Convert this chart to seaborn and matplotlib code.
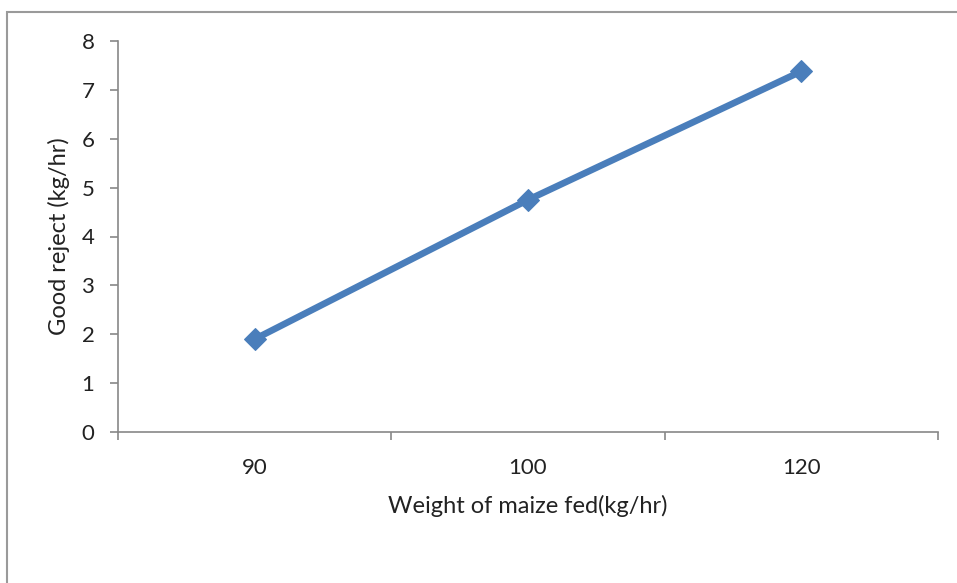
import matplotlib
matplotlib.use("Agg")
import matplotlib.pyplot as plt
from matplotlib.patches import Rectangle
import seaborn as sns
import pandas as pd

categories = ["90", "100", "120"]
good_reject = [1.9, 4.75, 7.38]
y_ticks = [0, 1, 2, 3, 4, 5, 6, 7, 8]

sns.set_theme(style="white")
plt.rcParams["font.family"] = ["Lato", "DejaVu Sans"]

df = pd.DataFrame({"weight": categories, "reject": good_reject})

fig = plt.figure(figsize=(9.57, 5.83), dpi=100)
ax = fig.add_axes([118 / 957, 1 - 432 / 583, (938 - 118) / 957, (432 - 41) / 583])

# outer chart frame
fig.patches.append(Rectangle((7 / 957, -0.1), 1.2, 1.1 - 12 / 583,
                             transform=fig.transFigure, fill=False,
                             edgecolor="#9a9a9a", linewidth=1.5, zorder=0))

color = "#4a7ebb"
sns.lineplot(data=df, x="weight", y="reject", ax=ax, color=color,
             linewidth=4.8, marker="D", markersize=11,
             markeredgecolor=color, markerfacecolor=color, sort=False)

ax.set_xlim(-0.5, 2.5)
ax.set_ylim(0, 8)
ax.set_yticks(y_ticks)
ax.set_xticks(range(len(categories)))
ax.set_xticklabels(categories)
ax.set_xticks([-0.5, 0.5, 1.5, 2.5], minor=True)
ax.tick_params(axis="x", which="major", length=0, labelsize=16, pad=19,
               labelcolor="#222222")
ax.tick_params(axis="x", which="minor", length=6, width=1.2, color="#888888",
               direction="out", bottom=True)
ax.tick_params(axis="y", length=6, width=1.2, color="#888888",
               direction="out", left=True, labelsize=16, pad=11,
               labelcolor="#222222")

for side in ["top", "right"]:
    ax.spines[side].set_visible(False)
for side in ["left", "bottom"]:
    ax.spines[side].set_color("#888888")
    ax.spines[side].set_linewidth(1.2)

ax.set_xlabel("Weight of maize fed(kg/hr)", fontsize=17, color="#222222",
              labelpad=12)
ax.set_ylabel("Good reject (kg/hr)", fontsize=17, color="#222222",
              labelpad=8)
ax.grid(False)

fig.savefig("out.png", dpi=100)
